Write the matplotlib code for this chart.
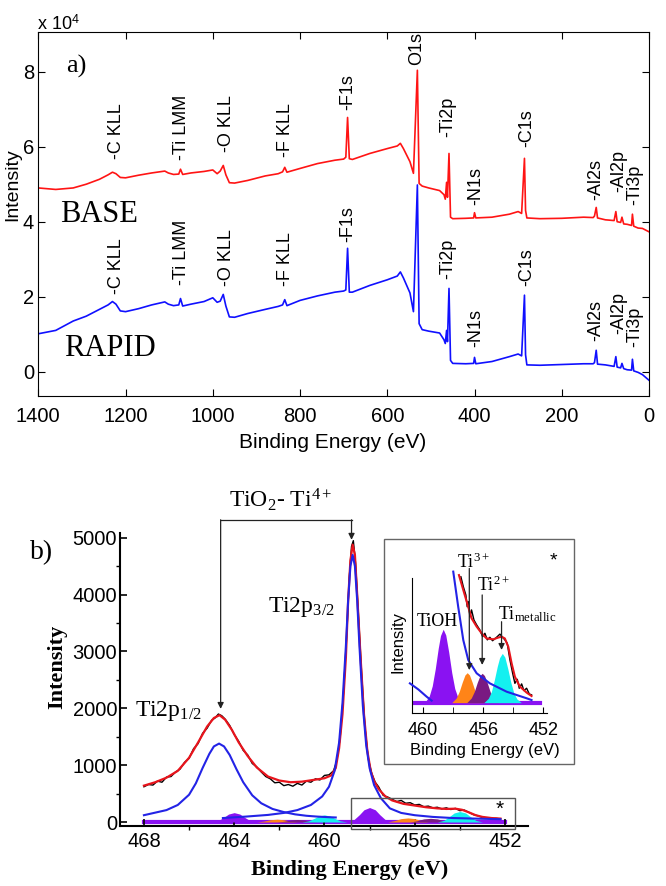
import matplotlib
matplotlib.use('Agg')
import matplotlib.pyplot as plt
from matplotlib.patches import Rectangle
from matplotlib.ticker import MultipleLocator

plt.rcParams['font.family'] = ['Liberation Sans', 'DejaVu Sans']
plt.rcParams['mathtext.fontset'] = 'custom'
plt.rcParams['mathtext.rm'] = 'Liberation Serif'
plt.rcParams['mathtext.it'] = 'Liberation Serif:italic'
plt.rcParams['mathtext.sf'] = 'Liberation Sans'

W, H = 666, 886
SERIF = 'Liberation Serif'

# ---------------- a) survey spectra (intensity in 1e4 counts)
survey_ev = [1400, 1360, 1320, 1290, 1260, 1240, 1230, 1222, 1212, 1200, 1170, 1140,
             1110, 1102, 1090, 1078, 1074, 1069, 1050, 1020, 1000, 990, 983, 976, 970,
             962, 950, 920, 880, 850, 840, 835, 830, 800, 760, 720, 700, 695, 691, 687,
             680, 640, 600, 577, 570, 563, 548, 540, 531, 527, 520, 505, 480, 470, 467,
             464, 462, 458.5, 455, 450, 420, 402, 400, 397, 360, 320, 300, 292, 285.5,
             283, 280, 250, 200, 150, 128, 125, 121, 118, 100, 80, 76, 73, 65, 62, 58,
             50, 40, 38, 35, 25, 15, 0]
base_int = [4.90, 4.86, 4.90, 5.00, 5.13, 5.25, 5.32, 5.28, 5.18, 5.17, 5.24, 5.30,
            5.35, 5.30, 5.26, 5.27, 5.40, 5.26, 5.30, 5.34, 5.38, 5.28, 5.35, 5.50, 5.25,
            5.04, 5.03, 5.10, 5.22, 5.28, 5.33, 5.45, 5.32, 5.42, 5.55, 5.64, 5.67, 5.72,
            6.78, 5.68, 5.66, 5.82, 5.95, 6.02, 6.09, 5.95, 5.60, 5.29, 8.04, 5.02, 4.95,
            4.90, 4.83, 4.72, 4.60, 5.05, 4.65, 5.82, 4.12, 4.08, 4.09, 4.10, 4.24, 4.10,
            4.12, 4.20, 4.27, 4.22, 5.69, 4.30, 4.10, 4.08, 4.09, 4.12, 4.11, 4.15, 4.38,
            4.10, 4.05, 4.03, 4.27, 4.00, 3.98, 4.12, 3.94, 3.93, 3.90, 4.20, 3.88, 3.83,
            3.82, 3.73]
rapid_int = [1.01, 1.10, 1.35, 1.48, 1.66, 1.78, 1.87, 1.80, 1.62, 1.60, 1.68, 1.78,
             1.86, 1.80, 1.76, 1.78, 1.95, 1.75, 1.80, 1.87, 1.97, 1.85, 1.88, 2.06, 1.75,
             1.46, 1.45, 1.55, 1.66, 1.74, 1.78, 1.92, 1.76, 1.90, 2.02, 2.12, 2.15, 2.18,
             3.29, 2.12, 2.12, 2.30, 2.45, 2.55, 2.66, 2.50, 2.10, 1.60, 4.98, 1.28, 1.12,
             1.08, 1.03, 0.85, 0.75, 1.10, 0.80, 2.22, 0.30, 0.22, 0.21, 0.22, 0.38, 0.21,
             0.27, 0.40, 0.47, 0.42, 2.04, 0.45, 0.18, 0.17, 0.19, 0.21, 0.21, 0.24, 0.57,
             0.20, 0.18, 0.14, 0.40, 0.12, 0.10, 0.22, 0.08, 0.05, 0.04, 0.33, 0.02, -0.02,
             -0.08, -0.23]

base_names = ['-C KLL', '-Ti LMM', '-O KLL', '-F KLL', '-F1s', 'O1s', '-Ti2p', '-N1s',
              '-C1s', '-Al2s', '-Al2p', '-Ti3p']
base_label_ev = [1220, 1071, 968, 834, 690, 532, 461, 397, 280, 121, 69, 32]
base_label_y = [5.67, 5.65, 5.87, 5.73, 6.98, 8.18, 6.26, 4.45, 5.99, 4.58, 4.79, 4.45]

rapid_names = ['-C KLL', '-Ti LMM', '-O KLL', '-F KLL', '-F1s', '-Ti2p', '-N1s',
               '-C1s', '-Al2s', '-Al2p', '-Ti3p']
rapid_label_ev = [1220, 1071, 968, 834, 690, 461, 397, 280, 121, 69, 32]
rapid_label_y = [2.08, 2.31, 2.28, 2.28, 3.47, 2.48, 0.65, 2.28, 0.83, 1.01, 0.65]

# ---------------- b) Ti2p high resolution
fit_ev = [468.0, 467.5, 467.0, 466.5, 466.0, 465.6, 465.2, 464.9, 464.65, 464.4, 464.1,
          463.8, 463.4, 463.0, 462.5, 462.0, 461.5, 461.0, 460.5, 460.0, 459.7, 459.5,
          459.35, 459.2, 459.05, 458.95, 458.85, 458.75, 458.65, 458.55, 458.4, 458.25,
          458.1, 457.95, 457.8, 457.6, 457.3, 457.0, 456.5, 456.0, 455.5, 455.0, 454.6,
          454.2, 453.9, 453.6, 453.3, 453.0, 452.6, 452.2]
fit_int = [640, 700, 780, 900, 1130, 1400, 1680, 1830, 1880, 1800, 1620, 1400, 1160,
           960, 800, 730, 700, 710, 740, 770, 820, 950, 1300, 1900, 2900, 3900, 4600,
           4880, 4700, 4000, 2900, 1900, 1250, 900, 720, 580, 450, 380, 320, 290, 260,
           240, 230, 235, 215, 170, 120, 90, 70, 60]

data_ev = [468.0, 467.8, 467.6, 467.4, 467.2, 467.0, 466.8, 466.6, 466.4, 466.2, 466.0,
           465.8, 465.6, 465.4, 465.2, 465.0, 464.85, 464.7, 464.55, 464.4, 464.2, 464.0,
           463.8, 463.6, 463.4, 463.2, 463.0, 462.8, 462.6, 462.4, 462.2, 462.0, 461.8,
           461.6, 461.4, 461.2, 461.0, 460.8, 460.6, 460.4, 460.2, 460.0, 459.8, 459.6,
           459.45, 459.3, 459.15, 459.0, 458.9, 458.8, 458.72, 458.62, 458.5, 458.35,
           458.2, 458.05, 457.9, 457.75, 457.6, 457.4, 457.2, 457.0, 456.8, 456.6, 456.4,
           456.2, 456.0, 455.8, 455.6, 455.4, 455.2, 455.0, 454.8, 454.6, 454.4, 454.2,
           454.0, 453.8, 453.6, 453.4, 453.2, 453.0, 452.8, 452.6, 452.4, 452.2]
data_int = [620, 660, 650, 720, 700, 790, 800, 880, 930, 1050, 1120, 1290, 1380, 1560,
            1650, 1790, 1830, 1900, 1870, 1810, 1700, 1540, 1420, 1260, 1180, 1030, 970,
            880, 800, 760, 690, 700, 640, 660, 630, 680, 650, 720, 700, 760, 740, 820,
            830, 900, 1080, 1500, 2300, 3400, 4300, 4850, 4950, 4550, 3700, 2600, 1650,
            1100, 850, 700, 620, 470, 440, 400, 360, 380, 330, 340, 300, 310, 270, 280,
            250, 260, 230, 250, 220, 240, 200, 210, 170, 130, 110, 80, 75, 60, 65, 55]

p12_ev = [468.0, 467.0, 466.5, 466.0, 465.7, 465.4, 465.1, 464.9, 464.67, 464.45, 464.2,
          463.9, 463.6, 463.2, 462.8, 462.3, 461.8, 461.3, 460.8, 460.3, 459.8, 459.5]
p12_int = [120, 210, 300, 480, 680, 950, 1200, 1330, 1380, 1330, 1180, 930, 700, 470,
           330, 230, 175, 135, 110, 95, 85, 80]
p32_ev = [464.5, 463.5, 462.5, 461.8, 461.2, 460.6, 460.1, 459.8, 459.55, 459.35, 459.2,
          459.05, 458.95, 458.85, 458.75, 458.65, 458.55, 458.45, 458.3, 458.15, 458.0,
          457.8, 457.5, 457.1, 456.6, 456.0, 455.2, 454.3, 453.3, 452.2]
p32_int = [70, 95, 125, 160, 210, 300, 450, 620, 900, 1400, 2100, 3100, 3900, 4500,
           4700, 4500, 3900, 3100, 2050, 1350, 950, 650, 420, 240, 160, 120, 90, 70, 60, 50]

tioh_ev = [465.0, 464.7, 464.45, 464.25, 464.0, 463.75, 463.55, 463.3, 463.0,
           459.0, 458.7, 458.45, 458.25, 458.0, 457.75, 457.55, 457.3, 457.0]
tioh_int = [0, 25, 85, 140, 165, 140, 85, 25, 0, 0, 40, 130, 215, 255, 215, 130, 40, 0]
ti3_ev = [463.0, 462.7, 462.4, 462.1, 461.8, 461.5, 461.2,
          457.2, 456.9, 456.6, 456.3, 456.0, 455.7, 455.4]
ti3_int = [0, 15, 40, 50, 40, 15, 0, 0, 25, 60, 72, 60, 25, 0]
ti2_ev = [462.1, 461.8, 461.5, 461.2, 460.9, 460.6, 460.3,
          456.2, 455.9, 455.6, 455.3, 455.0, 454.7, 454.4]
ti2_int = [0, 12, 35, 45, 35, 12, 0, 0, 22, 55, 65, 55, 22, 0]
tim_ev = [461.0, 460.7, 460.45, 460.25, 460.0, 459.75, 459.55, 459.3, 459.0,
          455.0, 454.7, 454.45, 454.25, 454.0, 453.75, 453.55, 453.3, 453.0]
tim_int = [0, 20, 65, 105, 125, 105, 65, 20, 0, 0, 30, 100, 160, 185, 160, 100, 30, 0]

# ---------------- inset (zoom of the boxed region, arbitrary units)
ins_tioh_ev = [459.9, 459.6, 459.4, 459.2, 459.0, 458.85, 458.67, 458.5, 458.3, 458.1,
               457.9, 457.7, 457.4]
ins_tioh_int = [0, 23, 58, 117, 189, 233, 255, 235, 175, 104, 49, 19, 0]
ins_ti3_ev = [458.1, 457.8, 457.6, 457.4, 457.22, 457.07, 456.92, 456.74, 456.54, 456.34, 456.0]
ins_ti3_int = [0, 16, 39, 71, 96, 104, 96, 71, 39, 16, 0]
ins_ti2_ev = [457.1, 456.8, 456.6, 456.4, 456.22, 456.07, 455.92, 455.74, 455.54, 455.34, 455.0]
ins_ti2_int = [0, 16, 38, 70, 94, 102, 94, 70, 38, 16, 0]
ins_tim_ev = [455.96, 455.66, 455.46, 455.26, 455.06, 454.91, 454.73, 454.56, 454.36,
              454.16, 453.96, 453.76, 453.46]
ins_tim_int = [0, 15, 38, 79, 127, 156, 171, 158, 117, 70, 33, 13, 0]
ins_blue_left_ev = [460.89, 460.33, 459.78, 459.44]
ins_blue_left_int = [67, 46, 21, 7]
ins_blue_ev = [458.0, 457.67, 457.33, 457.0, 456.44, 455.56, 454.44, 453.1, 452.78]
ins_blue_int = [455, 333, 217, 148, 102, 67, 38, 15, 9]
ins_fit_ev = [457.62, 457.33, 457.07, 456.78, 456.44, 456.11, 455.78, 455.33, 455.0,
              454.78, 454.56, 454.33, 454.11, 453.89, 453.56, 453.11, 452.78]
ins_fit_int = [443, 391, 345, 293, 264, 241, 223, 220, 226, 229, 223, 194, 137, 90, 56, 35, 23]
ins_data_ev = [457.49, 457.33, 457.16, 457.07, 457.0, 456.89, 456.78, 456.62, 456.44,
               456.22, 456.04, 455.89, 455.73, 455.56, 455.38, 455.22, 455.07, 454.89,
               454.71, 454.56, 454.4, 454.22, 454.04, 453.89, 453.73, 453.6, 453.44,
               453.29, 453.11, 452.93, 452.78]
ins_data_int = [437, 403, 374, 333, 351, 298, 322, 287, 270, 252, 229, 241, 218, 227, 215,
                222, 229, 238, 227, 218, 206, 148, 102, 67, 81, 50, 65, 42, 50, 30, 27]
ins_arrow_ev = [456.93, 456.07, 454.78]
ins_arrow_top = [466, 374, 281]
ins_arrow_tip = [113, 131, 183]

VIOLET = '#8a12f2'
ORANGE = '#ff8418'
PURPLE = '#7a1a82'
CYAN = '#14f0f0'
RED = '#e8141c'
BLUE = '#2323e6'

fig = plt.figure(figsize=(W / 100, H / 100), dpi=100)


def ftext(x, y, s, **kw):
    fig.text(x / W, 1 - y / H, s, ha='center', va='center', **kw)


# ---- panel a
ax1 = fig.add_axes([38.3 / W, 1 - 396 / H, (649 - 38.3) / W, (396 - 32) / H])
ax1.plot(survey_ev, base_int, color='#ff1414', lw=1.2)
ax1.plot(survey_ev, rapid_int, color='#1010ff', lw=1.2)
ax1.set_xlim(1400, 0)
ax1.set_ylim(-0.65, 9.06)
ax1.set_xticks(range(0, 1401, 200))
ax1.set_yticks([0, 2, 4, 6, 8])
ax1.tick_params(direction='in', top=True, right=True, length=5, labelsize=14.5)
ax1.tick_params(axis='x', pad=8)
ax1.tick_params(axis='y', pad=3)
for name, e, y in zip(base_names, base_label_ev, base_label_y):
    ax1.text(e, y, name, rotation=90, ha='center', va='bottom', fontsize=13)
for name, e, y in zip(rapid_names, rapid_label_ev, rapid_label_y):
    ax1.text(e, y, name, rotation=90, ha='center', va='bottom', fontsize=13)

ftext(58, 24, r'x 10$^{\mathsf{4}}$', fontsize=13)
ftext(76, 66, 'a)', family=SERIF, fontsize=19)
ftext(99, 215, 'BASE', family=SERIF, fontsize=22)
ftext(110, 349, 'RAPID', family=SERIF, fontsize=22)
ftext(13, 185, 'Intensity', rotation=90, fontsize=14)
ftext(333, 443, 'Binding Energy (eV)', fontsize=15)

# ---- panel b
ax2 = fig.add_axes([120 / W, 1 - 826 / H, 408 / W, (826 - 532.7) / H])
ax2.plot([468, 452], [0, 0], color=VIOLET, lw=3, zorder=1)
for xs, ys, c in [(tioh_ev, tioh_int, VIOLET), (ti3_ev, ti3_int, ORANGE),
                  (ti2_ev, ti2_int, PURPLE), (tim_ev, tim_int, CYAN)]:
    ax2.fill_between(xs, 0, ys, color=c, lw=0, zorder=2)
ax2.plot(data_ev, data_int, color='black', lw=1.0, zorder=3)
ax2.plot(fit_ev, fit_int, color=RED, lw=1.6, zorder=4)
ax2.plot(p12_ev, p12_int, color=BLUE, lw=1.5, zorder=5)
ax2.plot(p32_ev, p32_int, color=BLUE, lw=1.5, zorder=5)
ax2.set_xlim(469.06, 450.98)
ax2.set_ylim(-70, 5090)
ax2.set_xticks([468, 464, 460, 456, 452])
ax2.xaxis.set_minor_locator(MultipleLocator(2))
ax2.set_yticks(range(0, 5001, 1000))
ax2.yaxis.set_minor_locator(MultipleLocator(500))
ax2.spines['top'].set_visible(False)
ax2.spines['right'].set_visible(False)
ax2.spines['left'].set_linewidth(1.5)
ax2.spines['bottom'].set_linewidth(1.5)
ax2.tick_params(which='major', direction='in', length=5, width=1.2, labelsize=14.5)
ax2.tick_params(which='minor', direction='out', length=3, width=1.0)
ax2.tick_params(axis='x', pad=4)
ax2.tick_params(axis='y', pad=2)

arrow_kw = dict(arrowstyle='-|>', color='#222222', lw=0.9, mutation_scale=9,
                shrinkA=0, shrinkB=0)
ax2.plot([464.6, 458.8], [5317, 5317], color='#222222', lw=0.9, clip_on=False)
ax2.annotate('', xy=(464.6, 1990), xytext=(464.6, 5317), arrowprops=arrow_kw,
             annotation_clip=False)
ax2.annotate('', xy=(458.8, 4965), xytext=(458.8, 5317), arrowprops=arrow_kw,
             annotation_clip=False)

ftext(42, 553, 'b)', family=SERIF, fontsize=20)
ftext(281, 500, r'TiO$_\mathrm{2}$- Ti$^\mathrm{4+}$', family=SERIF, fontsize=17)
ftext(302, 607, r'Ti2p$_\mathrm{3/2}$', family=SERIF, fontsize=17)
ftext(169, 711, r'Ti2p$_\mathrm{1/2}$', family=SERIF, fontsize=17)
ftext(500, 809, '*', fontsize=15)
ftext(350, 870, 'Binding Energy (eV)', family=SERIF, fontweight='bold', fontsize=16)
ftext(57, 667, 'Intensity', family=SERIF, fontweight='bold', fontsize=16, rotation=90)

fig.add_artist(Rectangle((351 / W, 1 - 829 / H), 164 / W, 31.3 / H,
                         transform=fig.transFigure, fill=False, ec='#555555', lw=1))
fig.add_artist(Rectangle((384 / W, 1 - 764 / H), 190 / W, 225 / H,
                         transform=fig.transFigure, fill=False, ec='#666666', lw=1))

# ---- inset
ax3 = fig.add_axes([411.7 / W, 1 - 713.3 / H, 135 / W, (713.3 - 567.3) / H])
ax3.patch.set_alpha(0)
ax3.plot([460.8, 452.2], [0, 0], color=VIOLET, lw=3, zorder=1)
for xs, ys, c in [(ins_tioh_ev, ins_tioh_int, VIOLET), (ins_ti3_ev, ins_ti3_int, ORANGE),
                  (ins_ti2_ev, ins_ti2_int, PURPLE), (ins_tim_ev, ins_tim_int, CYAN)]:
    ax3.fill_between(xs, 0, ys, color=c, lw=0, zorder=2)
ax3.plot(ins_blue_left_ev, ins_blue_left_int, color=BLUE, lw=1.5, zorder=3, clip_on=False)
ax3.plot(ins_blue_ev, ins_blue_int, color=BLUE, lw=1.5, zorder=3)
ax3.plot(ins_data_ev, ins_data_int, color='black', lw=1.0, zorder=4)
ax3.plot(ins_fit_ev, ins_fit_int, color=RED, lw=1.5, zorder=5)
for e, top, tip in zip(ins_arrow_ev, ins_arrow_top, ins_arrow_tip):
    ax3.annotate('', xy=(e, tip), xytext=(e, top), arrowprops=arrow_kw, zorder=6)
ax3.set_xlim(460.77, 451.77)
ax3.set_ylim(-37, 470)
ax3.spines['top'].set_visible(False)
ax3.spines['right'].set_visible(False)
ax3.spines['left'].set_bounds(-37, 432)
ax3.set_yticks([])
ax3.set_xticks([460, 456, 452])
ax3.set_xticks([458, 454], minor=True)
ax3.tick_params(which='both', direction='in', length=4, labelsize=13, pad=6)

ftext(437, 622, 'TiOH', family=SERIF, fontsize=13)
ftext(473, 562, r'Ti$^\mathrm{3+}$', family=SERIF, fontsize=13)
ftext(493, 585, r'Ti$^\mathrm{2+}$', family=SERIF, fontsize=13)
ftext(527, 614, r'Ti$_\mathrm{metallic}$', family=SERIF, fontsize=13)
ftext(553, 561, '*', fontsize=14)
ftext(398, 642, 'Intensity', rotation=90, fontsize=12)
ftext(485, 750, 'Binding Energy (eV)', fontsize=12)

fig.savefig('out.png', dpi=100)
